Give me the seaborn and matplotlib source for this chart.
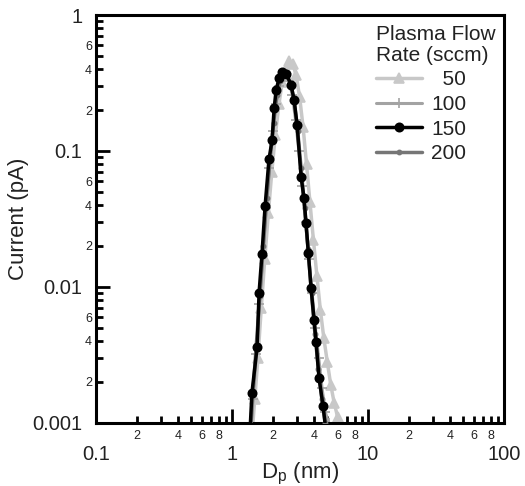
import numpy as np
import pandas as pd
import matplotlib
matplotlib.use('Agg')
import matplotlib.pyplot as plt
import matplotlib.ticker as mticker
import seaborn as sns

# particle size distributions
dp_50 = [1.40, 1.47, 1.55, 1.64, 1.74, 1.85, 1.96, 2.08, 2.21, 2.34, 2.48, 2.63, 2.79, 2.96,
         3.14, 3.33, 3.53, 3.74, 3.97, 4.21, 4.46, 4.73, 5.02, 5.32, 5.64, 5.98, 6.3]
cur_50 = [0.0008, 0.0015, 0.003, 0.007, 0.016, 0.035, 0.07, 0.13, 0.22, 0.32, 0.40, 0.46, 0.44, 0.36,
          0.25, 0.15, 0.08, 0.042, 0.022, 0.012, 0.0068, 0.0042, 0.0028, 0.0019, 0.0014, 0.0011, 0.0008]

dp_100 = [1.37, 1.43, 1.51, 1.59, 1.68, 1.78, 1.88, 1.99, 2.10, 2.22, 2.35, 2.48, 2.62, 2.77,
          2.93, 3.10, 3.28, 3.47, 3.67, 3.88, 4.10, 4.34, 4.59, 4.85, 5.13, 5.45]
cur_100 = [0.0008, 0.0015, 0.0032, 0.0075, 0.017, 0.038, 0.075, 0.14, 0.22, 0.30, 0.36, 0.37, 0.33, 0.26,
           0.17, 0.10, 0.055, 0.03, 0.016, 0.009, 0.005, 0.003, 0.0018, 0.0012, 0.001, 0.0007]

dp_150 = [1.35, 1.40, 1.53, 1.58, 1.66, 1.75, 1.87, 1.97, 2.04, 2.11, 2.22, 2.33, 2.50, 2.72,
          2.86, 3.01, 3.22, 3.38, 3.50, 3.64, 3.81, 4.01, 4.15, 4.36, 4.67, 4.95]
cur_150 = [0.0008, 0.00166, 0.00362, 0.00904, 0.0175, 0.0394, 0.0873, 0.120, 0.207, 0.281, 0.344, 0.381, 0.37, 0.306,
           0.237, 0.155, 0.0644, 0.0451, 0.0296, 0.0178, 0.00984, 0.00572, 0.00394, 0.00214, 0.00133, 0.0008]

dp_200 = [1.36, 1.42, 1.50, 1.60, 1.70, 1.80, 1.91, 2.02, 2.14, 2.26, 2.40, 2.55, 2.70, 2.87,
          3.04, 3.22, 3.42, 3.62, 3.84, 4.07, 4.31, 4.57, 4.85, 5.1]
cur_200 = [0.0008, 0.0016, 0.0035, 0.0085, 0.02, 0.045, 0.09, 0.16, 0.26, 0.33, 0.37, 0.36, 0.31, 0.23,
           0.14, 0.075, 0.038, 0.019, 0.009, 0.0045, 0.0025, 0.0015, 0.001, 0.0007]

sns.set_style('white')
plt.rcParams['font.family'] = ['Liberation Sans', 'DejaVu Sans']
plt.rcParams['mathtext.fontset'] = 'custom'
plt.rcParams['mathtext.rm'] = 'Liberation Sans'

fig = plt.figure(figsize=(5.25, 4.86), dpi=100)
ax = fig.add_axes([0.183, 0.13, 0.777, 0.839])

series = [
    ('  50', dp_50, cur_50, '#c8c8c8', '^', 7, 2.5, 1),
    ('100', dp_100, cur_100, '#a3a3a3', '+', 7, 2.2, 2),
    ('150', dp_150, cur_150, 'black', 'o', 6, 2.5, 4),
    ('200', dp_200, cur_200, '#767676', 'o', 3, 2.5, 3),
]
for lab, x, y, col, mk, ms, lw, z in series:
    sns.lineplot(x=x, y=y, ax=ax, color=col, marker=mk, markersize=ms, lw=lw,
                 markeredgecolor=col, markeredgewidth=1.2, label=lab, zorder=z, sort=False)

ax.set_xscale('log')
ax.set_yscale('log')
ax.set_xlim(0.1, 100)
ax.set_ylim(0.001, 1)

# major/minor ticks with labels on 2,4,6(,8)
xmaj = [0.1, 1, 10, 100]
ax.xaxis.set_major_locator(mticker.FixedLocator(xmaj))
ax.xaxis.set_major_formatter(mticker.FixedFormatter(['0.1', '1', '10', '100']))
xmin_loc, xmin_lab = [], []
for d in [0.1, 1, 10]:
    for k in range(2, 10):
        xmin_loc.append(d * k)
        xmin_lab.append(str(k) if k in (2, 4, 6, 8) else '')
ax.xaxis.set_minor_locator(mticker.FixedLocator(xmin_loc))
ax.xaxis.set_minor_formatter(mticker.FixedFormatter(xmin_lab))

ymaj = [0.001, 0.01, 0.1, 1]
ax.yaxis.set_major_locator(mticker.FixedLocator(ymaj))
ax.yaxis.set_major_formatter(mticker.FixedFormatter(['0.001', '0.01', '0.1', '1']))
ymin_loc, ymin_lab = [], []
for d in [0.001, 0.01, 0.1]:
    for k in range(2, 10):
        ymin_loc.append(d * k)
        ymin_lab.append(str(k) if k in (2, 4, 6) else '')
ax.yaxis.set_minor_locator(mticker.FixedLocator(ymin_loc))
ax.yaxis.set_minor_formatter(mticker.FixedFormatter(ymin_lab))

ax.tick_params(which='both', direction='in', color='black', width=2, top=False, right=False,
               bottom=True, left=True)
ax.tick_params(which='major', length=10, labelsize=14.5)
ax.tick_params(which='minor', length=5, labelsize=9)
ax.tick_params(axis='x', which='major', pad=16)
ax.tick_params(axis='x', which='minor', pad=5)
ax.tick_params(axis='y', which='major', pad=10)
ax.tick_params(axis='y', which='minor', pad=3)
for lbl in ax.get_xticklabels(which='both') + ax.get_yticklabels(which='both'):
    lbl.set_color('#222222')

for s in ax.spines.values():
    s.set_linewidth(2.2)
    s.set_color('black')

ax.set_xlabel(r'D$_\mathregular{p}$ (nm)', fontsize=16, labelpad=-2, color='#222222')
ax.set_ylabel('Current (pA)', fontsize=16, labelpad=2, color='#222222')

leg = ax.legend(title='Plasma Flow\nRate (sccm)', loc='upper left', frameon=False,
                fontsize=15, title_fontsize=15, alignment='left', handlelength=2.2,
                handletextpad=0.45, labelspacing=0.27, borderaxespad=0, borderpad=0,
                bbox_to_anchor=(0.686, 0.975))
for t in leg.get_texts():
    t.set_color('#222222')
leg.get_title().set_color('#222222')
leg.get_title().set_linespacing(1.1)

fig.savefig('out.png', dpi=100)
